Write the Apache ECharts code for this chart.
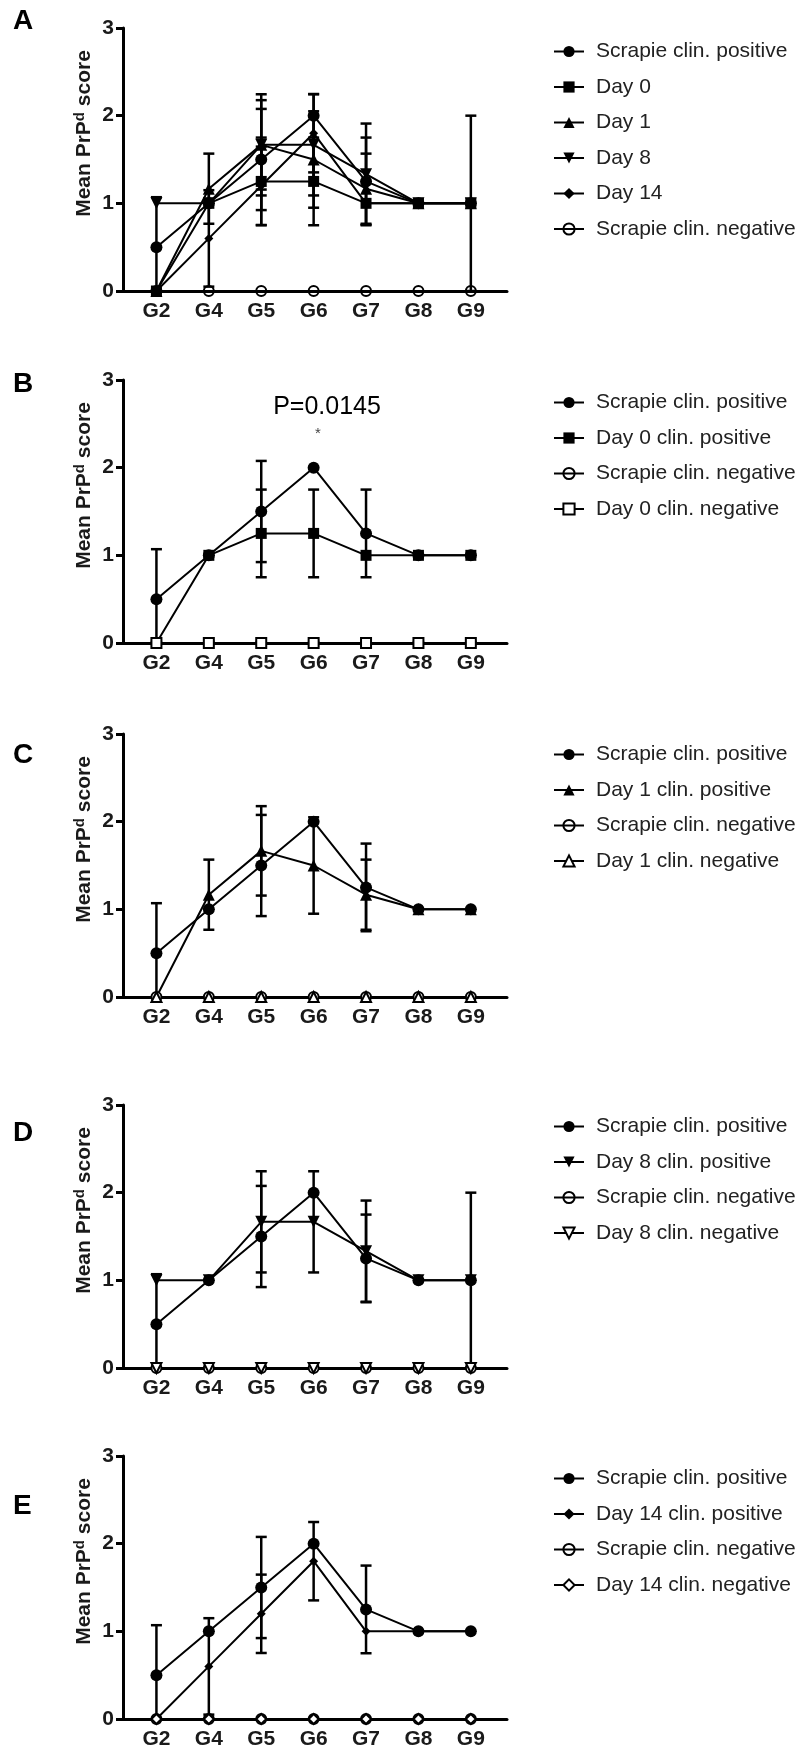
<!DOCTYPE html>
<html>
<head>
<meta charset="utf-8">
<script src="https://cdn.jsdelivr.net/npm/echarts@6/dist/echarts.min.js"></script>
<style>
  html, body { margin: 0; padding: 0; background: #fff; }
  #chart { width: 804px; height: 1751px; }
</style>
</head>
<body>
<div id="chart"></div>
<script>
// Brain regions on the x axis
const categories = ['G2', 'G4', 'G5', 'G6', 'G7', 'G8', 'G9'];
const yTicks = [0, 1, 2, 3];

// Mean PrPd score per region and its error (symmetric)
const scrapiePos    = [0.5, 1.0, 1.5, 2.0, 1.25, 1.0, 1.0];
const scrapiePosErr = [0.57, 0, 0.577, 0, 0.5, 0, 0];
const day0          = [0, 1.0, 1.25, 1.25, 1.0, 1.0, 1.0];
const day0Err       = [0, 0, 0.5, 0.5, 0, 0, 0];
const day1          = [0, 1.167, 1.667, 1.5, 1.167, 1.0, 1.0];
const day1Err       = [0, 0.4, 0.51, 0.55, 0.4, 0, 0];
const day8          = [1.0, 1.0, 1.667, 1.667, 1.333, 1.0, 1.0];
const day8Err       = [0, 0, 0.577, 0.577, 0.577, 0, 1.0];
const day14         = [0, 0.6, 1.2, 1.8, 1.0, 1.0, 1.0];
const day14Err      = [0, 0.55, 0.447, 0.447, 0, 0, 0];
const negative      = [0, 0, 0, 0, 0, 0, 0];
const noErr         = [0, 0, 0, 0, 0, 0, 0];

const pValueB = 'P=0.0145';

const FONT = '"Liberation Sans", Arial, Helvetica, sans-serif';
const TRI_DOWN = 'path://M0,0L2,0L1,1.732Z';

// Marker definitions
const mk = {
  circle:   { symbol: 'circle',   size: 12, open: false },
  square:   { symbol: 'rect',     size: 11, open: false },
  triUp:    { symbol: 'triangle', size: 12, open: false },
  triDown:  { symbol: TRI_DOWN,   size: 12, open: false },
  diamond:  { symbol: 'diamond',  size: 9,  open: false },
  oCircle:  { symbol: 'circle',   size: 10, open: true },
  oSquare:  { symbol: 'rect',     size: 10, open: true },
  oTriUp:   { symbol: 'triangle', size: 10, open: true },
  oTriDown: { symbol: TRI_DOWN,   size: 10, open: true },
  oDiamond: { symbol: 'diamond',  size: 10, open: true }
};

// Panel layout: y of the "3" gridline, legend top, letter centre
const panels = [
  { letter: 'A', top: 28, letterY: 21, legendTop: 36, series: [
    { name: 'Scrapie clin. positive', v: scrapiePos, e: scrapiePosErr, m: mk.circle },
    { name: 'Day 0',  v: day0,  e: day0Err,  m: mk.square },
    { name: 'Day 1',  v: day1,  e: day1Err,  m: mk.triUp },
    { name: 'Day 8',  v: day8,  e: day8Err,  m: mk.triDown },
    { name: 'Day 14', v: day14, e: day14Err, m: mk.diamond },
    { name: 'Scrapie clin. negative', v: negative, e: noErr, m: mk.oCircle, transparent: true, z: 1.5 }
  ]},
  { letter: 'B', top: 380, letterY: 384, legendTop: 387, series: [
    { name: 'Scrapie clin. positive', v: scrapiePos, e: scrapiePosErr, m: mk.circle },
    { name: 'Day 0 clin. positive', v: day0, e: day0Err, m: mk.square },
    { name: 'Scrapie clin. negative', v: negative, e: noErr, m: mk.oCircle },
    { name: 'Day 0 clin. negative', v: negative, e: noErr, m: mk.oSquare }
  ]},
  { letter: 'C', top: 734, letterY: 755, legendTop: 739, series: [
    { name: 'Scrapie clin. positive', v: scrapiePos, e: scrapiePosErr, m: mk.circle },
    { name: 'Day 1 clin. positive', v: day1, e: day1Err, m: mk.triUp },
    { name: 'Scrapie clin. negative', v: negative, e: noErr, m: mk.oCircle },
    { name: 'Day 1 clin. negative', v: negative, e: noErr, m: mk.oTriUp }
  ]},
  { letter: 'D', top: 1105, letterY: 1133, legendTop: 1111, series: [
    { name: 'Scrapie clin. positive', v: scrapiePos, e: scrapiePosErr, m: mk.circle },
    { name: 'Day 8 clin. positive', v: day8, e: day8Err, m: mk.triDown },
    { name: 'Scrapie clin. negative', v: negative, e: noErr, m: mk.oCircle },
    { name: 'Day 8 clin. negative', v: negative, e: noErr, m: mk.oTriDown }
  ]},
  { letter: 'E', top: 1456, letterY: 1506, legendTop: 1463, series: [
    { name: 'Scrapie clin. positive', v: scrapiePos, e: scrapiePosErr, m: mk.circle },
    { name: 'Day 14 clin. positive', v: day14, e: day14Err, m: mk.diamond },
    { name: 'Scrapie clin. negative', v: negative, e: noErr, m: mk.oCircle },
    { name: 'Day 14 clin. negative', v: negative, e: noErr, m: mk.oDiamond }
  ]}
];

const PLOT_H = 263;
const Y_MAX = 3;

// Vertical error bar with caps; clipped to the axis range
function renderErrorBar(params, api) {
  const x = api.value(0), m = api.value(1), e = api.value(2);
  if (!e) return null;
  const lo = Math.max(0, m - e), hi = Math.min(Y_MAX, m + e);
  const pt = api.coord([x, hi]);
  const pb = api.coord([x, lo]);
  const half = 5.5;
  const style = { stroke: '#000', lineWidth: 2.5 };
  const children = [
    { type: 'line', shape: { x1: pt[0], y1: pt[1], x2: pb[0], y2: pb[1] }, style }
  ];
  if (m + e <= Y_MAX) children.push({ type: 'line', shape: { x1: pt[0] - half, y1: pt[1], x2: pt[0] + half, y2: pt[1] }, style });
  if (m - e >= 0) children.push({ type: 'line', shape: { x1: pb[0] - half, y1: pb[1], x2: pb[0] + half, y2: pb[1] }, style });
  return { type: 'group', children };
}

const grid = [], xAxis = [], yAxis = [], series = [], legend = [], graphic = [];

panels.forEach((p, pi) => {
  grid.push({ left: 123, top: p.top, width: 384, height: PLOT_H });

  xAxis.push({
    type: 'value', gridIndex: pi, min: -0.638, max: 6.69,
    axisLine: { show: true, onZero: false, lineStyle: { color: '#000', width: 3 } },
    axisTick: { show: false },
    splitLine: { show: false },
    axisLabel: {
      customValues: categories.map((c, i) => i),
      formatter: v => categories[Math.round(v)] || '',
      fontFamily: FONT, fontSize: 21, fontWeight: 'bold', color: '#1a1a1a', margin: 10
    }
  });

  yAxis.push({
    type: 'value', gridIndex: pi, min: yTicks[0], max: yTicks[yTicks.length - 1], interval: 1,
    axisLine: { show: true, onZero: false, lineStyle: { color: '#000', width: 3 } },
    axisTick: { show: true, inside: false, length: 7, lineStyle: { color: '#000', width: 3 } },
    splitLine: { show: false },
    axisLabel: { fontFamily: FONT, fontSize: 21, fontWeight: 'bold', color: '#1a1a1a', margin: 9 },
    name: 'Mean PrP{sup|d} score',
    nameLocation: 'middle',
    nameGap: 27,
    nameTextStyle: {
      fontFamily: FONT, fontSize: 21, fontWeight: 'bold', color: '#1a1a1a', lineHeight: 24,
      padding: [0, 0, 0, 52],
      rich: { sup: { fontFamily: FONT, fontSize: 15, fontWeight: 'bold', color: '#1a1a1a', verticalAlign: 'top', lineHeight: 14 } }
    }
  });

  p.series.forEach(s => {
    if (s.e.some(x => x)) {
      series.push({
        type: 'custom', name: s.name + ' error', xAxisIndex: pi, yAxisIndex: pi,
        silent: true, z: 1,
        renderItem: renderErrorBar,
        encode: { x: 0, y: 1 },
        data: categories.map((c, i) => [i, s.v[i], s.e[i]])
      });
    }
    const fill = s.m.open ? (s.transparent ? 'rgba(255,255,255,0)' : '#fff') : '#000';
    series.push({
      type: 'line', name: s.name, xAxisIndex: pi, yAxisIndex: pi,
      z: s.z || 2,
      data: categories.map((c, i) => [i, s.v[i]]),
      symbol: s.m.symbol, symbolSize: s.m.size, showAllSymbol: true,
      lineStyle: { color: '#000', width: 2 },
      itemStyle: { color: fill, borderColor: '#000', borderWidth: s.m.open ? 2 : 0 },
      emphasis: { disabled: true },
      animation: false
    });
  });

  legend.push({
    orient: 'vertical', left: 548, top: p.legendTop,
    itemWidth: 30, itemHeight: 14, itemGap: 14.5,
    selectedMode: false,
    textStyle: { fontFamily: FONT, fontSize: 21, color: '#222', lineHeight: 21, padding: [0, 0, 0, 7] },
    data: p.series.map(s => s.name)
  });

  graphic.push({
    type: 'text', left: 13, top: p.letterY - 14,
    style: { text: p.letter, font: 'bold 28px ' + FONT, fill: '#000' }
  });
});

// Significance annotation for panel B
graphic.push({
  type: 'text', x: 327, y: 407,
  style: { text: pValueB, font: '25px ' + FONT, fill: '#000', align: 'center', verticalAlign: 'middle' }
});
graphic.push({
  type: 'text', x: 318, y: 434,
  style: { text: '*', font: '15px ' + FONT, fill: '#444', align: 'center', verticalAlign: 'middle' }
});

const chart = echarts.init(document.getElementById('chart'), null, { renderer: 'canvas' });
chart.setOption({
  backgroundColor: '#fff',
  animation: false,
  grid, xAxis, yAxis, series, legend, graphic
});
</script>
</body>
</html>
